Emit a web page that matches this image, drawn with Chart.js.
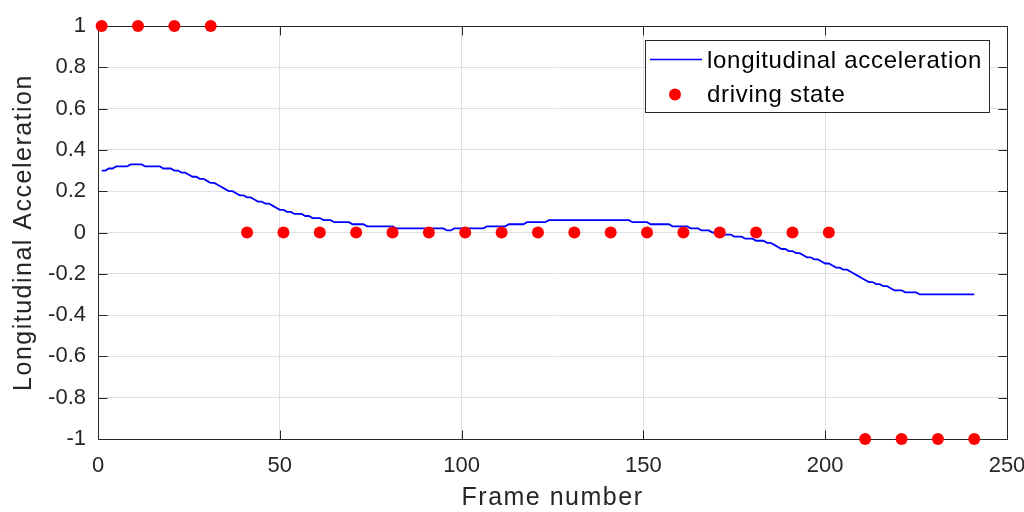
<!DOCTYPE html>
<html>
<head>
<meta charset="utf-8">
<script src="https://cdn.jsdelivr.net/npm/chart.js@4.4.1/dist/chart.umd.min.js"></script>
<style>
  html, body { margin: 0; padding: 0; background: #fff; }
  #wrap { width: 1024px; height: 512px; }
</style>
</head>
<body>
<div id="wrap"><canvas id="grafico" width="1024" height="512"></canvas></div>
<script>
// Aceleração longitudinal, um valor por frame (frames 1..241)
const aceleracao = [
  0.30, 0.30, 0.31, 0.31, 0.32, 0.32, 0.32, 0.32, 0.33, 0.33,
  0.33, 0.33, 0.32, 0.32, 0.32, 0.32, 0.32, 0.31, 0.31, 0.31,
  0.30, 0.30, 0.29, 0.29, 0.28, 0.27, 0.27, 0.26, 0.26, 0.25,
  0.24, 0.24, 0.23, 0.22, 0.21, 0.20, 0.20, 0.19, 0.18, 0.18,
  0.17, 0.17, 0.16, 0.15, 0.15, 0.14, 0.14, 0.13, 0.12, 0.11,
  0.11, 0.10, 0.10, 0.09, 0.09, 0.09, 0.08, 0.08, 0.07, 0.07,
  0.07, 0.06, 0.06, 0.06, 0.05, 0.05, 0.05, 0.05, 0.05, 0.04,
  0.04, 0.04, 0.04, 0.03, 0.03, 0.03, 0.03, 0.03, 0.03, 0.03,
  0.03, 0.02, 0.02, 0.02, 0.02, 0.02, 0.02, 0.02, 0.02, 0.02,
  0.02, 0.02, 0.02, 0.02, 0.02, 0.01, 0.01, 0.02, 0.02, 0.02,
  0.02, 0.02, 0.02, 0.02, 0.02, 0.02, 0.03, 0.03, 0.03, 0.03,
  0.03, 0.03, 0.04, 0.04, 0.04, 0.04, 0.04, 0.05, 0.05, 0.05,
  0.05, 0.05, 0.05, 0.06, 0.06, 0.06, 0.06, 0.06, 0.06, 0.06,
  0.06, 0.06, 0.06, 0.06, 0.06, 0.06, 0.06, 0.06, 0.06, 0.06,
  0.06, 0.06, 0.06, 0.06, 0.06, 0.06, 0.05, 0.05, 0.05, 0.05,
  0.05, 0.04, 0.04, 0.04, 0.04, 0.04, 0.04, 0.03, 0.03, 0.03,
  0.03, 0.03, 0.02, 0.02, 0.02, 0.01, 0.01, 0.01, 0.00, 0.00,
  0.00, -0.01, -0.01, -0.01, -0.02, -0.02, -0.02, -0.03, -0.03, -0.03,
  -0.04, -0.04, -0.04, -0.05, -0.05, -0.06, -0.07, -0.08, -0.08, -0.09,
  -0.09, -0.10, -0.10, -0.11, -0.12, -0.12, -0.13, -0.13, -0.14, -0.15,
  -0.15, -0.16, -0.17, -0.17, -0.18, -0.18, -0.19, -0.20, -0.21, -0.22,
  -0.23, -0.24, -0.24, -0.25, -0.25, -0.26, -0.26, -0.27, -0.28, -0.28,
  -0.28, -0.29, -0.29, -0.29, -0.29, -0.30, -0.30, -0.30, -0.30, -0.30,
  -0.30, -0.30, -0.30, -0.30, -0.30, -0.30, -0.30, -0.30, -0.30, -0.30,
  -0.30
];

// Estado de condução (pontos vermelhos)
const estadoFrames = [1, 11, 21, 31, 41, 51, 61, 71, 81, 91, 101, 111, 121,
  131, 141, 151, 161, 171, 181, 191, 201, 211, 221, 231, 241];
const estadoValores = [1, 1, 1, 1, 0, 0, 0, 0, 0, 0, 0, 0, 0,
  0, 0, 0, 0, 0, 0, 0, 0, -1, -1, -1, -1];

// Eixos
const xTicks = [0, 50, 100, 150, 200, 250];
const xTickLabels = ['0', '50', '100', '150', '200', '250'];
const yTicks = [-1, -0.8, -0.6, -0.4, -0.2, 0, 0.2, 0.4, 0.6, 0.8, 1];
const yTickLabels = ['-1', '-0.8', '-0.6', '-0.4', '-0.2', '0', '0.2', '0.4', '0.6', '0.8', '1'];
const legendaNomes = ['longitudinal acceleration', 'driving state'];

const FONTE = "'Liberation Sans', Arial, sans-serif";
const COR_EIXO = '#262626';

// Caixa do eixo (estilo MATLAB) com marcas para dentro, e espaçamento dos títulos
const moldura = {
  id: 'moldura',
  beforeDraw(chart) {
    chart.ctx.letterSpacing = '1.5px'; // só para os títulos dos eixos
  },
  beforeDatasetsDraw(chart) {
    const { ctx, chartArea: a, scales: { x, y } } = chart;
    ctx.letterSpacing = '0px';
    ctx.save();
    ctx.strokeStyle = COR_EIXO;
    ctx.lineWidth = 1;
    ctx.beginPath();
    const L = Math.round(a.left) + 0.5, R = Math.round(a.right) + 0.5;
    const T = Math.round(a.top) + 0.5, B = Math.round(a.bottom) + 0.5;
    ctx.rect(L, T, R - L, B - T);
    xTicks.forEach(v => {
      const px = Math.round(x.getPixelForValue(v)) + 0.5;
      ctx.moveTo(px, B); ctx.lineTo(px, B - 9);
      ctx.moveTo(px, T); ctx.lineTo(px, T + 9);
    });
    yTicks.forEach(v => {
      const py = Math.round(y.getPixelForValue(v)) + 0.5;
      ctx.moveTo(L, py); ctx.lineTo(L + 9, py);
      ctx.moveTo(R, py); ctx.lineTo(R - 9, py);
    });
    ctx.stroke();
    ctx.restore();
  },
  afterDraw(chart) {
    // Legenda dentro do gráfico, canto superior direito
    const { ctx, chartArea: a } = chart;
    const bx = a.right - 362, by = a.top + 14, bw = 344, bh = 72;
    ctx.save();
    ctx.fillStyle = '#fff';
    ctx.fillRect(bx, by, bw, bh);
    ctx.strokeStyle = COR_EIXO;
    ctx.lineWidth = 1;
    ctx.strokeRect(Math.round(bx) + 0.5, Math.round(by) + 0.5, bw, bh);
    ctx.strokeStyle = '#0000ff';
    ctx.lineWidth = 1.5;
    ctx.beginPath();
    ctx.moveTo(bx + 5, by + 19.5);
    ctx.lineTo(bx + 57, by + 19.5);
    ctx.stroke();
    ctx.fillStyle = '#ff0000';
    ctx.beginPath();
    ctx.arc(bx + 30, by + 54.5, 6, 0, Math.PI * 2);
    ctx.fill();
    ctx.fillStyle = '#000';
    ctx.font = '24px ' + FONTE;
    ctx.letterSpacing = '0.7px';
    ctx.textBaseline = 'alphabetic';
    ctx.textAlign = 'left';
    ctx.fillText(legendaNomes[0], bx + 62, by + 28);
    ctx.fillText(legendaNomes[1], bx + 62, by + 62);
    ctx.restore();
  }
};

const ctx = document.getElementById('grafico').getContext('2d');
new Chart(ctx, {
  type: 'line',
  data: {
    datasets: [
      {
        label: legendaNomes[1],
        data: estadoFrames.map((f, i) => ({ x: f, y: estadoValores[i] })),
        showLine: false,
        pointRadius: 6,
        pointBackgroundColor: '#ff0000',
        pointBorderWidth: 0,
        clip: false,
        order: 0
      },
      {
        label: legendaNomes[0],
        data: aceleracao.map((v, i) => ({ x: i + 1, y: v })),
        borderColor: '#0000ff',
        borderWidth: 1.8,
        pointRadius: 0,
        tension: 0,
        fill: false,
        order: 1
      }
    ]
  },
  options: {
    responsive: false,
    animation: false,
    layout: { padding: { top: 26, right: 17, left: 0, bottom: 0 } },
    plugins: { legend: { display: false }, tooltip: { enabled: false } },
    scales: {
      x: {
        type: 'linear',
        min: 0,
        max: 250,
        afterBuildTicks: s => { s.ticks = xTicks.map(v => ({ value: v })); },
        afterFit: s => { s.height = 73; s.paddingLeft = 0; s.paddingRight = 0; },
        grid: { color: '#dfdfdf', drawTicks: false },
        border: { display: false },
        ticks: {
          z: 1,
          padding: 14,
          autoSkip: false,
          maxRotation: 0,
          color: COR_EIXO,
          font: { family: FONTE, size: 22 },
          callback: (v, i) => xTickLabels[i]
        },
        title: {
          display: true,
          text: 'Frame number',
          color: COR_EIXO,
          font: { family: FONTE, size: 25, lineHeight: 1 },
          padding: { top: 0, bottom: 1 }
        }
      },
      y: {
        type: 'linear',
        min: -1,
        max: 1,
        afterBuildTicks: s => { s.ticks = yTicks.map(v => ({ value: v })); },
        afterFit: s => { s.width = 98; s.paddingTop = 0; s.paddingBottom = 0; },
        grid: { color: '#dfdfdf', drawTicks: false },
        border: { display: false },
        ticks: {
          z: 1,
          padding: 12,
          autoSkip: false,
          color: COR_EIXO,
          font: { family: FONTE, size: 22 },
          callback: (v, i) => yTickLabels[i]
        },
        title: {
          display: true,
          text: 'Longitudinal Acceleration',
          color: COR_EIXO,
          font: { family: FONTE, size: 25, lineHeight: 1 },
          padding: { top: 12, bottom: 0 }
        }
      }
    }
  },
  plugins: [moldura]
});
</script>
</body>
</html>
